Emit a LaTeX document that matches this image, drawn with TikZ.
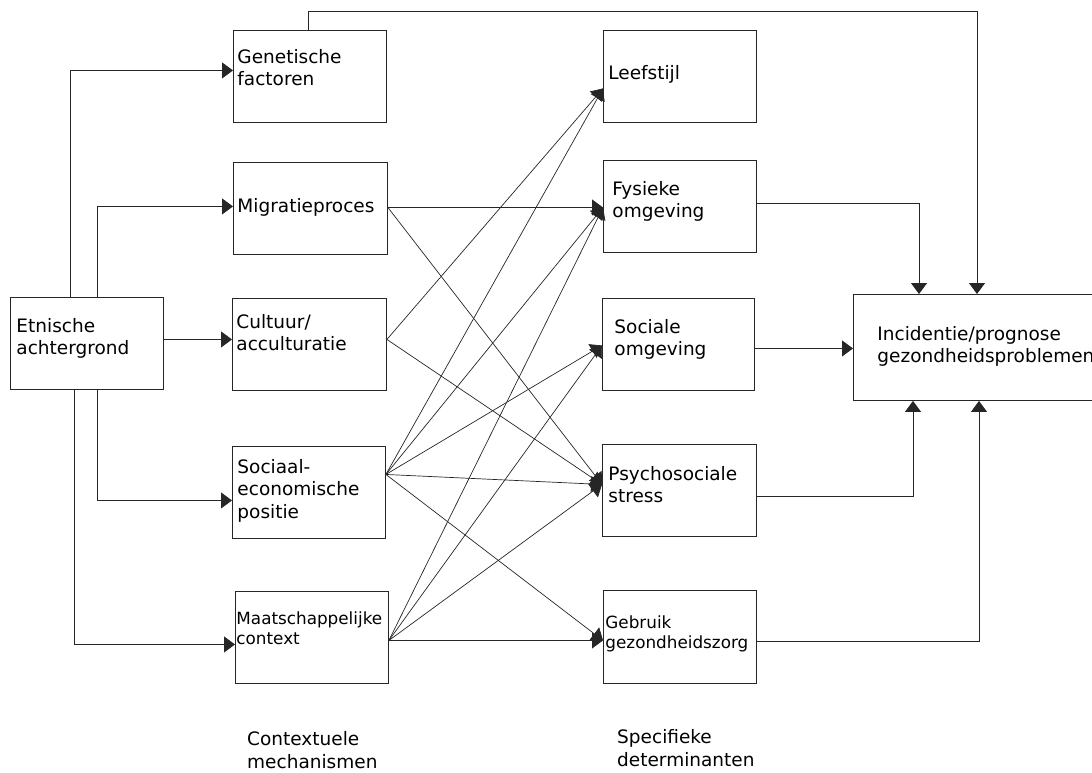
\documentclass[tikz,border=0pt]{standalone}
\usepackage{fontspec}
\setmainfont{DejaVu Sans}
\usetikzlibrary{arrows.meta}

\tikzset{
  blok/.style={draw=black!85, line width=0.9pt, anchor=north west,
    minimum width=153pt, minimum height=92pt, inner sep=0pt, align=left,
    text height=0pt, font=\fontsize{18.5pt}{22.5pt}\selectfont},
  klein/.style={font=\fontsize{16.8pt}{20pt}\selectfont},
  onder/.style={anchor=north west, inner sep=0pt, align=left,
    font=\fontsize{18.5pt}{23pt}\selectfont},
  pijl/.style={draw=black!85, line width=0.9pt, -{Triangle[length=11pt,width=16pt]}},
  lijn/.style={draw=black!85, line width=0.7pt, -{Triangle[length=11pt,width=16pt]}}
}

\begin{document}
\begin{tikzpicture}[x=1pt, y=-1pt]
  \useasboundingbox (0,0) rectangle (1092,772);
  \clip (0,0) rectangle (1092,772);

  % achtergrond en contextuele mechanismen
  \node[blok, text width=141pt, text depth=22pt] (etn) at (10,297) {Etnische\\achtergrond};
  \node[blok, text width=145pt, text depth=26pt] (gen) at (233,30) {Genetische\\factoren};
  \node[blok, minimum width=154pt, text width=146pt, text height=8pt, text depth=0pt] (mig) at (233,162) {Migratieproces};
  \node[blok, minimum width=154pt, text width=146pt, text depth=32pt] (cul) at (232,298) {Cultuur/\\acculturatie};
  \node[blok, text width=143pt, text depth=38pt] (sep) at (232,446) {Sociaal-\\economische\\positie};
  \node[blok, klein, text width=151pt, text depth=26pt] (maa) at (235,591) {Maatschappelijke\\context};

  % specifieke determinanten
  \node[blok, text width=143pt, text height=6pt, text depth=0pt] (lee) at (603,30) {Leefstijl};
  \node[blok, text width=135pt, text depth=22pt] (fys) at (603,160) {Fysieke\\omgeving};
  \node[blok, minimum width=152pt, text width=128pt, text depth=22pt] (sol) at (602,298) {Sociale\\omgeving};
  \node[blok, minimum width=154pt, text width=142pt, text depth=20pt] (psy) at (602,444) {Psychosociale\\stress};
  \node[blok, klein, minimum height=93pt, text width=149pt, text depth=17pt] (geb) at (603,590) {Gebruik\\gezondheidszorg};

  % uitkomst
  \node[blok, minimum width=300pt, minimum height=106pt, text width=252pt, text depth=14pt] (inc) at (853,294)
    {Incidentie/prognose\\gezondheidsproblemen};

  \node[onder] (ctx) at (247,731) {Contextuele\\mechanismen};
  \node[onder] (det) at (617,729) {Specifieke\\determinanten};

  % etnische achtergrond naar mechanismen
  \draw[pijl] ([xshift=-16.5pt]etn.north) |- ([yshift=6pt]gen.west);
  \draw[pijl] ([xshift=10.5pt]etn.north) |- ([yshift=2pt]mig.west);
  \draw[pijl] ([yshift=4pt]etn.east) -- ([yshift=4pt]etn.east -| cul.west);
  \draw[pijl] ([xshift=10.5pt]etn.south) |- ([yshift=-8pt]sep.west);
  \draw[pijl] ([xshift=-12.5pt]etn.south) |- ([yshift=-7pt]maa.west);

  % aanhechtpunten
  \coordinate (mig-r) at ([yshift=1pt]mig.east);
  \coordinate (cul-r) at ([yshift=5pt]cul.east);
  \coordinate (sep-r) at ([yshift=18pt]sep.east);
  \coordinate (maa-r) at ([yshift=-3pt]maa.east);
  \coordinate (lee-l) at ([yshift=-12pt]lee.west);
  \coordinate (fys-l) at ([yshift=-1pt]fys.west);
  \coordinate (sol-l) at ([yshift=-1pt]sol.west);
  \coordinate (psy-l) at ([yshift=6pt]psy.west);
  \coordinate (geb-l) at ([yshift=-3.5pt]geb.west);

  % mechanismen naar determinanten
  \draw[pijl] (mig-r) -- (fys-l);
  \draw[lijn] (mig-r) -- (psy-l);
  \draw[lijn] (cul-r) -- (lee-l);
  \draw[lijn] (cul-r) -- (psy-l);
  \draw[lijn] (sep-r) -- (lee-l);
  \draw[lijn] (sep-r) -- (fys-l);
  \draw[lijn] (sep-r) -- (sol-l);
  \draw[lijn] (sep-r) -- (psy-l);
  \draw[lijn] (sep-r) -- (geb-l);
  \draw[lijn] (maa-r) -- (fys-l);
  \draw[lijn] (maa-r) -- (sol-l);
  \draw[lijn] (maa-r) -- (psy-l);
  \draw[pijl] (maa-r) -- (geb-l);

  % naar incidentie/prognose
  \draw[pijl] ([xshift=-1.5pt]gen.north) -- ++(0,-19) -| ([xshift=124pt]inc.north west);
  \draw[pijl] ([yshift=3pt]fys.east) -| ([xshift=66pt]inc.north west);
  \draw[pijl] ([yshift=-4pt]sol.east) -- ([yshift=-4pt]sol.east -| inc.west);
  \draw[pijl] ([yshift=-6pt]psy.east) -| ([xshift=60pt]inc.south west);
  \draw[pijl] ([yshift=-4.5pt]geb.east) -| ([xshift=126pt]inc.south west);
\end{tikzpicture}
\end{document}
